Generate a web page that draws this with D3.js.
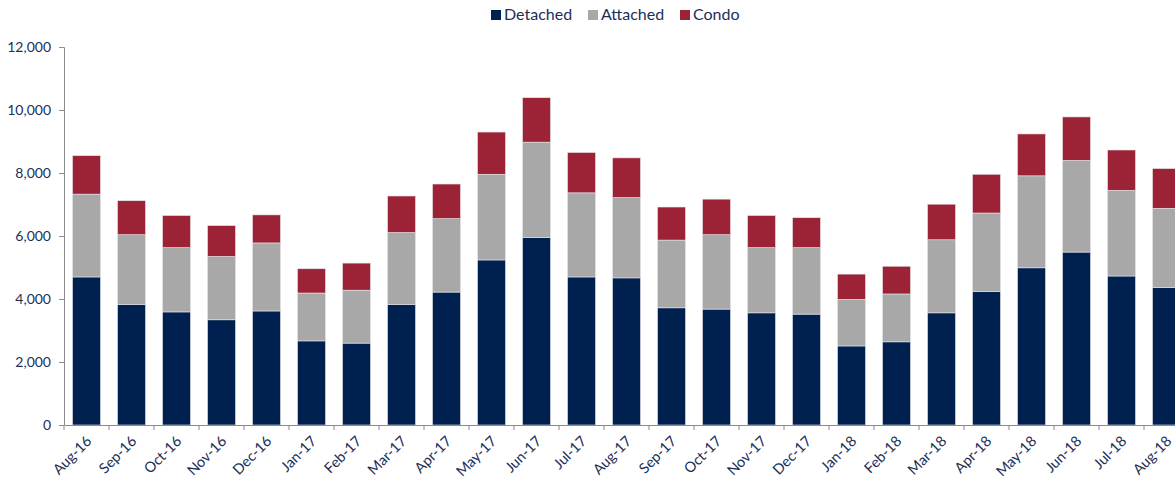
<!DOCTYPE html>
<html>
<head>
<meta charset="utf-8">
<script src="https://cdn.jsdelivr.net/npm/d3@7"></script>
<style>
  body { margin: 0; background: #fff; }
  text { font-family: Lato, "Open Sans", sans-serif; fill: #1b2f57; }
</style>
</head>
<body>
<div id="chart-area"></div>
<script>
var months = ["Aug-16","Sep-16","Oct-16","Nov-16","Dec-16","Jan-17","Feb-17","Mar-17","Apr-17","May-17","Jun-17","Jul-17",
	"Aug-17","Sep-17","Oct-17","Nov-17","Dec-17","Jan-18","Feb-18","Mar-18","Apr-18","May-18","Jun-18","Jul-18","Aug-18"];
var detached = [4700,3830,3590,3340,3620,2670,2600,3830,4220,5240,5950,4700,4670,3720,3680,3560,3520,2510,2640,3560,4240,4990,5490,4730,4360];
var attached = [2630,2210,2040,2010,2160,1520,1680,2280,2330,2720,3030,2670,2550,2150,2360,2070,2110,1480,1520,2320,2490,2920,2910,2720,2520];
var condo    = [1220,1080,1020, 980, 890, 770, 860,1160,1100,1340,1410,1280,1260,1050,1130,1020, 950, 800, 880,1130,1230,1330,1380,1280,1260];
var seriesNames = ["Detached","Attached","Condo"];
var colors = ["#00214f","#a8a8a8","#9c2235"];
var yTicks = [0,2000,4000,6000,8000,10000,12000];

var totalWidth = 1175, totalHeight = 479;
var margin = { left: 64, top: 47, bottom: 54 };
var height = totalHeight - margin.top - margin.bottom;

var rows = months.map(function(m, i){
	return { month: m, Detached: detached[i], Attached: attached[i], Condo: condo[i] };
});
var stack = d3.stack().keys(seriesNames)(rows);

var svg = d3.select("#chart-area").append("svg")
	.attr("width", totalWidth)
	.attr("height", totalHeight);

var g = svg.append("g")
	.attr("transform", "translate(" + margin.left + ", " + margin.top + ")");

var x = d3.scaleBand()
	.domain(months)
	.range([0, 45 * months.length])
	.paddingInner(0.378)
	.paddingOuter(0.189);

var y = d3.scaleLinear()
	.domain([0, 12000])
	.range([height, 0]);

// bars
g.selectAll("g.layer")
	.data(stack)
	.enter().append("g")
		.attr("class", "layer")
		.attr("fill", function(d, i){ return colors[i]; })
	.selectAll("rect")
	.data(function(d){ return d; })
	.enter().append("rect")
		.attr("x", function(d){ return x(d.data.month); })
		.attr("y", function(d){ return y(d[1]); })
		.attr("width", x.bandwidth())
		.attr("height", function(d){ return y(d[0]) - y(d[1]); })
		.attr("stroke", "#e6e6ea")
		.attr("stroke-width", 0.6);

// y axis
var yAxis = d3.axisLeft(y)
	.tickValues(yTicks)
	.tickSize(5)
	.tickFormat(d3.format(","));

var yg = g.append("g")
	.attr("class", "y-axis")
	.call(yAxis);
yg.select(".domain").attr("stroke", "#8c8c8c").attr("d", "M-5,0.5H0.5V" + height);
yg.selectAll(".tick line").attr("stroke", "#8c8c8c");
yg.selectAll(".tick text")
	.attr("x", -13)
	.attr("font-size", "14px")
	.attr("fill", "#1b2f57");

// x axis
var xAxis = d3.axisBottom(x).tickSize(0);
var xg = g.append("g")
	.attr("class", "x-axis")
	.attr("transform", "translate(0, " + height + ")")
	.call(xAxis);
xg.select(".domain").attr("stroke", "#8c8c8c");
xg.selectAll(".tick text")
	.attr("font-size", "14.5px")
	.attr("fill", "#1b2f57")
	.attr("text-anchor", "end")
	.attr("dy", null)
	.attr("y", 0)
	.attr("transform", "translate(6, 17) rotate(-45)");

// tick marks between categories
g.append("g")
	.selectAll("line")
	.data(d3.range(months.length + 1))
	.enter().append("line")
		.attr("x1", function(i){ return i * x.step(); })
		.attr("x2", function(i){ return i * x.step(); })
		.attr("y1", height)
		.attr("y2", height + 5)
		.attr("stroke", "#8c8c8c");

// legend
var legendX = [491, 588, 680];
var legend = svg.append("g").attr("class", "legend");
seriesNames.forEach(function(name, i){
	legend.append("rect")
		.attr("x", legendX[i])
		.attr("y", 10)
		.attr("width", 10)
		.attr("height", 10)
		.attr("fill", colors[i]);
	legend.append("text")
		.attr("x", legendX[i] + 13)
		.attr("y", 20)
		.attr("font-size", "16px")
		.attr("fill", "#1b2f57")
		.text(name);
});
</script>
</body>
</html>
